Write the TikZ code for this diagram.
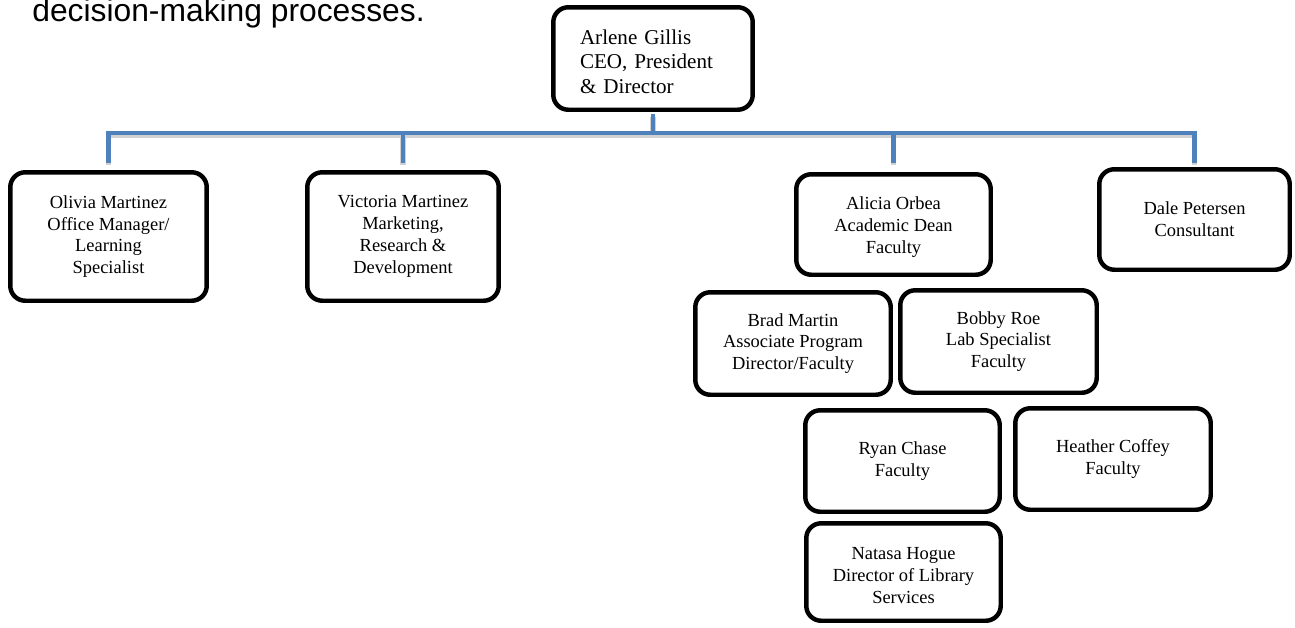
\documentclass[tikz,border=0pt]{standalone}
\usepackage{fontspec}
\setmainfont{Liberation Serif}
\newfontfamily\introfont{Liberation Sans}
\usepackage{tikz}
\definecolor{orgblue}{HTML}{4F81BD}

\begin{document}
\begin{tikzpicture}[x=0.02cm, y=-0.02cm]
\tikzstyle{person}=[draw=black, line width=2.55pt, rounded corners=0.3cm, fill=white, inner sep=0pt, align=center, minimum width=3.9cm, minimum height=2.03cm, font=\fontsize{10.5}{12.4}\selectfont]
\tikzstyle{link}=[draw=orgblue, line width=2.8pt, preaction={draw=black!18, line width=3pt, transform canvas={yshift=-1.3pt}}]
\useasboundingbox (0,0) rectangle (1295,627);

\node[anchor=base west, inner sep=0pt, font=\introfont\fontsize{18.1}{21}\selectfont] (intro) at (32,21) {decision-making processes.};

\node[person, minimum width=3.99cm, minimum height=2.05cm, text width=2.92cm, inner xsep=0.535cm, align=left, font=\fontsize{12}{13.8}\selectfont] (arlene) at (653,58.5) {\rule{0pt}{11.8pt}Arlene Gillis\\CEO, President\\\& Director};

\node[person, minimum width=3.93cm, minimum height=2.57cm] (olivia)   at (108.5,236.5) {Olivia Martinez\\Office Manager/\\Learning\\Specialist};
\node[person, minimum width=3.83cm, minimum height=2.57cm] (victoria) at (403,236.5)   {Victoria Martinez\\Marketing,\\Research \&\\Development};
\node[person, minimum width=3.89cm, minimum height=2.01cm] (alicia)   at (893.5,224.5) {\rule{0pt}{10pt}Alicia Orbea\\Academic Dean\\Faculty};
\node[person, minimum width=3.81cm, minimum height=2.01cm] (dale)     at (1194.5,219.5) {Dale Petersen\\Consultant};

\node[person, minimum width=3.91cm, minimum height=2.05cm] (brad)  at (793,343.5)   {Brad Martin\\Associate Program\\Director/Faculty};
\node[person, minimum width=3.93cm, minimum height=2.05cm] (bobby) at (998.5,341.5) {Bobby Roe\\Lab Specialist\\Faculty};

\node[person, minimum width=3.89cm] (ryan)    at (902.5,461) {Ryan Chase\\Faculty};
\node[person, minimum width=3.91cm] (heather) at (1113,459)  {Heather Coffey\\Faculty};
\node[person, minimum width=3.89cm, minimum height=1.95cm] (natasa) at (903.5,572) {\rule{0pt}{11pt}Natasa Hogue\\Director of Library\\Services};

% bus from the top box to the first row
\coordinate (busy) at (0,133);
\coordinate (hub) at (arlene.south |- busy);
\draw[link, shorten <=0.05cm] (arlene.south) -- (hub);
\draw[link, shorten <=0.14cm, shorten >=0.08cm] (olivia.north) |- (hub) -| (dale.north);
\draw[link, shorten >=0.14cm] (victoria.north |- busy) -- (victoria.north);
\draw[link, shorten >=0.19cm] (alicia.north |- busy) -- (alicia.north);
\end{tikzpicture}
\end{document}
